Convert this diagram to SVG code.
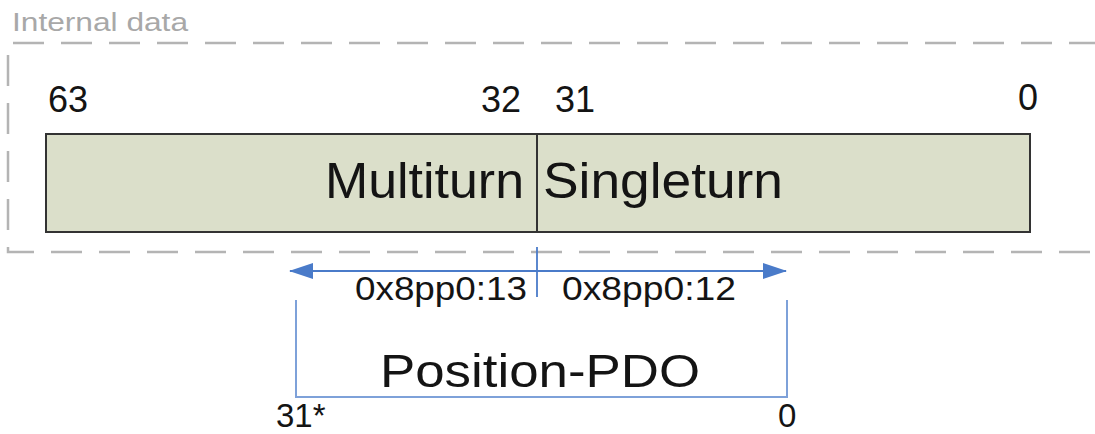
<svg xmlns="http://www.w3.org/2000/svg" width="1095" height="434" viewBox="0 0 1095 434">
<style>
.t{font-family:"Liberation Sans",Arial,sans-serif;fill:#141414}
.gray{font-family:"Liberation Sans",Arial,sans-serif;fill:#a8a8a8}
</style>
<defs>
<marker id="ah" viewBox="0 0 24 16" refX="23" refY="8" markerWidth="24" markerHeight="16" markerUnits="userSpaceOnUse" orient="auto-start-reverse">
<path d="M0,0 L24,8 L0,16 z" fill="#4a7bc9"/>
</marker>
</defs>
<rect width="1095" height="434" fill="#ffffff"/>
<g id="internal-data">
<path d="M1100,43 H8 V252 H1100" fill="none" stroke="#b4b4b4" stroke-width="2.5" stroke-dasharray="31 17"/>
<text class="gray" x="12" y="31" font-size="25" textLength="176" lengthAdjust="spacingAndGlyphs">Internal data</text>
</g>
<g id="multiturn">
<rect x="46" y="134" width="491" height="98" fill="#dbdfca" stroke="#333" stroke-width="2"/>
<text class="t" x="524" y="198" font-size="50" text-anchor="end" textLength="199" lengthAdjust="spacingAndGlyphs">Multiturn</text>
<text class="t" x="48" y="112" font-size="36">63</text>
<text class="t" x="521" y="112" font-size="36" text-anchor="end">32</text>
</g>
<g id="singleturn">
<rect x="537" y="134" width="493" height="98" fill="#dbdfca" stroke="#333" stroke-width="2"/>
<text class="t" x="543" y="198" font-size="50" textLength="240" lengthAdjust="spacingAndGlyphs">Singleturn</text>
<text class="t" x="555" y="112" font-size="36">31</text>
<text class="t" x="1018" y="110" font-size="36">0</text>
</g>
<g id="connectors">
<line x1="290" y1="271" x2="786" y2="271" stroke="#4a7bc9" stroke-width="1.8" marker-start="url(#ah)" marker-end="url(#ah)"/>
<line x1="537" y1="247" x2="537" y2="297" stroke="#4a7bc9" stroke-width="1.8"/>
</g>
<g id="labels">
<text class="t" x="527" y="300" font-size="33" text-anchor="end" textLength="172" lengthAdjust="spacingAndGlyphs">0x8pp0:13</text>
<text class="t" x="562" y="300" font-size="33" textLength="174" lengthAdjust="spacingAndGlyphs">0x8pp0:12</text>
</g>
<g id="position-pdo">
<path d="M296,300 V397 H787 V300" fill="none" stroke="#7ea1d9" stroke-width="2"/>
<text class="t" x="540" y="387" font-size="47" text-anchor="middle" textLength="320" lengthAdjust="spacingAndGlyphs">Position-PDO</text>
<text class="t" x="276" y="427" font-size="33">31*</text>
<text class="t" x="778" y="427" font-size="33">0</text>
</g>
</svg>
